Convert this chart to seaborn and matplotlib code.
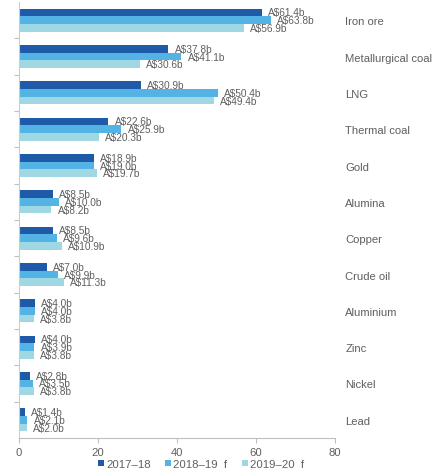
import matplotlib
matplotlib.use("Agg")
import matplotlib.pyplot as plt
from matplotlib.patches import Patch
import pandas as pd
import seaborn as sns

commodities = ["Iron ore", "Metallurgical coal", "LNG", "Thermal coal", "Gold",
               "Alumina", "Copper", "Crude oil", "Aluminium", "Zinc", "Nickel", "Lead"]
years = ["2017\u201318", "2018\u201319  f", "2019\u201320  f"]
v_2017_18 = [61.4, 37.8, 30.9, 22.6, 18.9, 8.5, 8.5, 7.0, 4.0, 4.0, 2.8, 1.4]
v_2018_19 = [63.8, 41.1, 50.4, 25.9, 19.0, 10.0, 9.6, 9.9, 4.0, 3.9, 3.5, 2.1]
v_2019_20 = [56.9, 30.6, 49.4, 20.3, 19.7, 8.2, 10.9, 11.3, 3.8, 3.8, 3.8, 2.0]
x_ticks = [0, 20, 40, 60, 80]

colors = ["#1f5aa8", "#52b3e4", "#9fd8e2"]
text_grey = "#5f5f5f"

df = pd.DataFrame({
    "commodity": commodities * 3,
    "year": [years[0]] * 12 + [years[1]] * 12 + [years[2]] * 12,
    "value": v_2017_18 + v_2018_19 + v_2019_20,
})

sns.set_theme(style="white")
plt.rcParams["font.family"] = ["Liberation Sans", "DejaVu Sans"]

fig = plt.figure(figsize=(4.38, 4.77), dpi=100)
ax = fig.add_axes([19 / 438, 1 - 439 / 477, (335 - 19) / 438, (439 - 3) / 477])

sns.barplot(data=df, y="commodity", x="value", hue="year", order=commodities,
            hue_order=years, palette=colors, orient="h", width=0.64,
            linewidth=0, saturation=1, legend=False, ax=ax)

for cont in ax.containers:
    ax.bar_label(cont, fmt="A${:.1f}b", padding=4.5, fontsize=7.3, color=text_grey)

ax.set_xlim(0, 80)
ax.set_ylim(11.5, -0.5)
ax.set_xticks(x_ticks)
ax.set_xlabel("")
ax.set_ylabel("")

# category names on the right, boundary ticks on the left
ax.yaxis.set_ticks_position("right")
ax.set_yticks([i - 0.5 for i in range(1, 12)], minor=True)
ax.tick_params(axis="y", which="major", length=0, pad=7.5, labelsize=8.1,
               labelcolor=text_grey, right=True, left=False)
ax.tick_params(axis="y", which="minor", length=3.5, width=0.8, color="#bfbfbf",
               left=True, right=False)
for lab in ax.get_yticklabels():
    lab.set_horizontalalignment("left")

ax.tick_params(axis="x", which="major", length=3.5, width=0.8, color="#bfbfbf",
               bottom=True, labelsize=8.1, labelcolor=text_grey, pad=3)

for side in ("top", "right"):
    ax.spines[side].set_visible(False)
ax.spines["left"].set_color("#cccccc")
ax.spines["left"].set_linewidth(0.8)
ax.spines["bottom"].set_color("#bfbfbf")
ax.spines["bottom"].set_linewidth(0.8)

handles = [Patch(facecolor=c, edgecolor="none") for c in colors]
fig.legend(handles, years, loc="center", bbox_to_anchor=(201 / 438, 1 - 465 / 477),
           ncol=3, frameon=False, fontsize=8.2, labelcolor=text_grey,
           handlelength=0.55, handleheight=0.55, handletextpad=0.2,
           columnspacing=1.25, borderaxespad=0)

fig.savefig("out.png", dpi=100)
